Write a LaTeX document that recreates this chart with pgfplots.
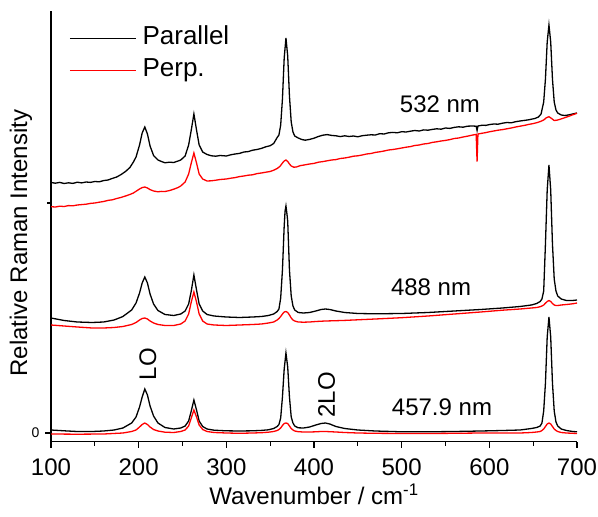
\documentclass[border=0pt]{standalone}
\usepackage{fontspec}
\setmainfont{Liberation Sans}
\usepackage{pgfplots}
\pgfplotsset{compat=1.18}
\begin{document}
\begin{tikzpicture}[font=\fontsize{24}{29}\selectfont]
\begin{axis}[
  scale only axis,
  width=526pt, height=430.5pt,
  xmin=100, xmax=700, ymin=-8.5, ymax=422,
  axis x line*=bottom, axis y line*=left,
  axis line style={line width=1.2pt, -},
  xtick={100,200,...,700},
  minor xtick={150,250,...,650},
  ytick={0}, minor ytick={230},
  tick align=outside,
  major tick length=6pt, minor tick length=4pt,
  tick style={line width=1.2pt, black},
  /pgf/number format/assume math mode=true,
  xticklabel style={font=\fontsize{24}{29}\selectfont, yshift=-8pt},
  yticklabel style={font=\fontsize{14}{16}\selectfont, xshift=-2pt},
  xlabel={Wavenumber / cm\textsuperscript{-1}},
  ylabel={Relative Raman Intensity},
  xlabel style={at={(axis description cs:0.5,0)}, anchor=base, yshift=-63pt},
  ylabel style={at={(axis description cs:-0.0456,0.461)}, anchor=base},
  legend style={at={(axis description cs:0.034,0.966)}, anchor=north west, draw=none, fill=none,
    inner sep=0pt, row sep=7pt, column sep=6pt,
    nodes={inner sep=0pt, text height=19pt, text depth=6pt},
    font=\fontsize{26}{31}\selectfont},
  legend cell align=left,
  legend image code/.code={\draw[#1, line width=1.5pt] (0pt,0pt) -- (66pt,0pt);},
  every axis plot/.append style={line width=1.3pt, mark=none},
]
\coordinate (sw) at (rel axis cs:0,0);
\coordinate (ne) at (rel axis cs:1,1);
% 532 nm parallel
\addplot[black] coordinates {(100,250.5) (105,249.8) (110,250.6) (115,249.5) (120,250.2) (125,249.6) (130,250.8) (135,250.1) (140,251.0) (145,250.6) (150,251.5) (155,251.2) (160,252.4) (165,253.0) (170,254.6) (175,256.0) (180,258.5) (185,261.5) (190,265.5) (194,271) (197,276) (201,288) (204,300) (207,306) (210,299) (213,287) (217,277.5) (222,273) (226,271.5) (230,270.2) (235,270.8) (240,270.5) (245,272) (248,273) (253,277) (257,288) (260,303) (263,319) (266,303) (269,288) (273,281) (278,278.5) (283,277.2) (288,276.8) (293,277.5) (300,277) (305,278.2) (310,279) (315,279.6) (320,281) (325,281.4) (330,282.8) (335,283.5) (340,284.6) (345,286.2) (350,287.3) (354,289.5) (358,295.5) (360,298) (362,308) (364,334) (366,375) (368,395) (370,377) (372,337) (374,311) (376,301) (378,297) (382,295) (386,293.5) (390,292.8) (395,293.6) (400,294.8) (405,296.5) (410,297.8) (415,298.4) (420,297.6) (425,297.2) (430,296.4) (435,297.2) (440,296.5) (445,297.0) (450,296.2) (455,297.3) (460,297.8) (465,298.2) (470,298.0) (475,299.3) (480,299.0) (485,300.2) (490,300.6) (495,300.2) (500,301.3) (505,301.0) (510,301.8) (515,302.5) (520,302.0) (525,303.1) (530,302.8) (535,303.6) (540,304.2) (545,303.8) (550,305.0) (555,304.6) (560,305.6) (565,306.2) (570,305.8) (575,306.8) (580,307.0) (585,306.8) (586,302.5) (587,307.0) (592,307.8) (596,307.6) (600,308.4) (605,309.0) (610,308.8) (615,309.8) (620,310.5) (625,310.2) (630,311.3) (635,312.0) (640,312.6) (645,313.2) (648,313.8) (652,314.5) (656,316) (659,319) (662,331) (664,354) (666,391) (668,408) (670,391) (672,354) (674,331) (676,323) (678,320) (682,318) (686,317.5) (690,318) (695,319) (700,320)};
\addlegendentry{Parallel}
% 532 nm perpendicular
\addplot[red] coordinates {(100,226.3) (105,226.0) (110,226.8) (115,226.5) (120,227.4) (125,227.2) (130,228.0) (135,228.4) (140,228.8) (145,229.6) (150,230.0) (155,230.8) (160,231.5) (165,232.6) (170,233.2) (175,234.5) (180,235.6) (185,237.0) (190,238.5) (194,240.0) (198,242.3) (201,244.0) (204,245.4) (207,246.0) (210,245.0) (213,243.4) (217,242.0) (222,241.2) (226,241.6) (230,241.5) (235,242.4) (240,243.8) (245,245.5) (248,247) (253,251) (257,259) (260,270) (263,280) (266,270) (269,259) (273,254) (278,252) (283,252.2) (288,252.8) (293,253.5) (300,254.0) (305,254.8) (310,255.4) (315,256.4) (320,257.0) (325,257.8) (330,258.2) (335,259.4) (340,260.0) (345,260.8) (350,261.5) (354,262.8) (358,264.5) (361,266.5) (364,270) (366,272) (368,273) (370,271.5) (372,269) (374,267) (377,265.8) (380,266.0) (384,267.3) (390,268.2) (395,269.0) (400,269.6) (405,270.8) (410,271.4) (415,272.2) (420,273.0) (425,273.4) (430,274.5) (435,275.0) (440,275.8) (445,276.8) (450,277.2) (455,278.0) (460,279.0) (465,279.5) (470,280.6) (475,281.2) (480,282.0) (485,283.0) (490,283.5) (495,284.2) (500,285.0) (505,285.8) (510,286.4) (515,287.5) (520,288.0) (525,289.0) (530,289.5) (535,290.6) (540,291.2) (545,292.0) (550,292.6) (555,293.4) (560,294.5) (565,295.0) (570,296.0) (575,296.8) (580,297.8) (585,298.6) (586,271.3) (587,299.0) (592,299.8) (596,300.4) (600,301.2) (605,302.0) (610,302.8) (615,303.4) (620,304.2) (625,305.0) (630,306.0) (635,306.8) (640,307.6) (645,308.6) (650,309.4) (655,310.5) (659,311.8) (662,313.0) (665,315.2) (668,316.3) (671,314.5) (674,312.5) (677,312.8) (680,313.5) (685,315.0) (690,316.5) (695,318.2) (700,319.7)};
\addlegendentry{Perp.}
% 488 nm parallel
\addplot[black, forget plot] coordinates {(100,115) (115,112.5) (130,111) (147,110.5) (160,111) (172,113) (182,116.5) (192,123) (197,130) (201,140) (204,150) (207,156) (210,150) (213,139) (217,129) (222,122.5) (230,118.5) (240,117.5) (248,119) (253,122) (257,129) (260,142) (263,158) (266,143) (269,129) (273,122) (278,118.5) (286,117) (300,116) (315,115.5) (330,116) (340,116.5) (348,117.5) (354,119) (358,121.5) (360,124) (362,135) (364,163) (366,207) (367,222) (368,227) (369,220) (370,212) (372,163) (374,137) (376,127) (378,123) (382,120.5) (388,120) (395,120.5) (402,122) (408,123.5) (413,124) (418,123.5) (425,122) (435,120.5) (450,119.5) (470,119.2) (500,119.5) (530,120.5) (560,122) (590,123.5) (615,125) (635,126.5) (648,128) (654,129.5) (658,131.5) (660,134) (662,142) (664,189) (666,243) (668,268) (670,243) (672,189) (674,154) (676,142) (678,137) (682,134) (688,132.5) (695,132.5) (700,133)};
% 488 nm perpendicular
\addplot[red, forget plot] coordinates {(100,108) (115,107) (130,106) (147,105) (160,105) (172,105.5) (182,106.5) (192,108.5) (197,110.5) (201,113) (204,114.5) (207,115) (210,114) (213,112) (217,110) (222,108.5) (230,107.5) (240,107.5) (248,109) (253,112) (257,119) (260,131) (263,141) (266,131) (269,119) (273,112) (278,109) (286,108) (300,107.5) (315,108) (330,108.5) (340,109) (348,110) (354,111) (358,113) (360,114.5) (362,116.5) (364,119) (366,121) (368,121.5) (370,120.5) (372,118) (374,115) (376,113) (378,112) (382,111) (388,110.8) (395,111) (402,111.5) (413,112) (425,112.3) (435,112.6) (450,113.2) (470,114) (500,115.3) (530,117) (560,119) (590,121) (615,122.8) (635,124) (648,125) (654,125.5) (658,126.3) (660,127) (662,128) (664,129.8) (666,131.5) (668,132.5) (670,131.5) (672,129.5) (674,128) (676,127.5) (678,127.5) (682,128) (688,128.5) (695,129.2) (700,130)};
% 457.9 nm parallel
\addplot[black, forget plot] coordinates {(100,3.0) (115,2.2) (130,1.5) (147,1.5) (160,2.0) (172,3.0) (182,5.0) (192,10) (197,16) (201,26) (204,36) (207,44) (210,38) (213,27) (217,17) (222,10) (230,5.5) (240,4.0) (248,5.0) (253,7.0) (257,12) (260,22) (263,33) (266,23) (269,12) (273,6.5) (278,4.0) (286,2.8) (300,2.2) (315,2.0) (330,2.2) (340,2.6) (348,3.2) (354,4.5) (358,6.5) (360,8.5) (362,15) (364,36) (366,64) (368,80) (370,66) (372,36) (374,16) (376,10) (378,7) (382,5.2) (388,5) (395,6) (402,8) (408,9.5) (413,10) (418,9) (425,6.5) (435,4.5) (450,3) (470,2) (500,1.2) (530,1.2) (560,1.5) (590,2) (615,2.5) (635,3) (648,4.5) (654,5.5) (658,7) (660,10) (662,22) (664,50) (666,96) (668,116) (670,96) (672,50) (674,22) (676,11) (678,7) (682,4) (688,2.5) (695,1.5) (700,1.2)};
% 457.9 nm perpendicular
\addplot[red, forget plot] coordinates {(100,-1) (130,-1.2) (160,-1) (182,0) (192,1.5) (197,3) (201,6) (204,8.5) (207,10) (210,8.5) (213,6) (217,3.5) (222,2) (230,0.8) (240,0.5) (248,1.5) (253,3) (257,7) (260,15) (263,23) (266,16) (269,8) (273,3.5) (278,1.5) (286,0.5) (300,0) (315,-0.3) (330,0) (340,0.3) (348,0.8) (354,1.5) (358,2.5) (360,3.5) (362,5) (364,7.5) (366,9.5) (368,10) (370,9.5) (372,7) (374,4.5) (376,3) (378,2) (382,1.3) (388,1) (395,1) (402,1.2) (408,1.5) (413,1.5) (418,1.3) (425,1) (435,0.5) (450,0) (470,-0.3) (500,-0.5) (530,-0.5) (560,-0.3) (590,0) (615,0) (635,0) (648,0.5) (654,1) (658,1.5) (660,2.5) (662,4) (664,6.5) (666,9) (668,10) (670,9) (672,6.5) (674,4) (676,2.5) (678,1.5) (682,0.5) (688,0) (695,-0.3) (700,-0.5)};
\node[anchor=base] at (axis cs:543.7,320) {532 nm};
\node[anchor=base] at (axis cs:533.5,137) {488 nm};
\node[anchor=base] at (axis cs:546,18) {457.9 nm};
\node[anchor=base, rotate=90] at (axis cs:219.8,69) {LO};
\node[anchor=base, rotate=90] at (axis cs:423.9,38) {2LO};
\end{axis}
\pgfresetboundingbox
\path[use as bounding box] ([shift={(-51pt,-74.5pt)}]sw) rectangle ([shift={(21pt,11pt)}]ne);
\end{tikzpicture}
\end{document}
